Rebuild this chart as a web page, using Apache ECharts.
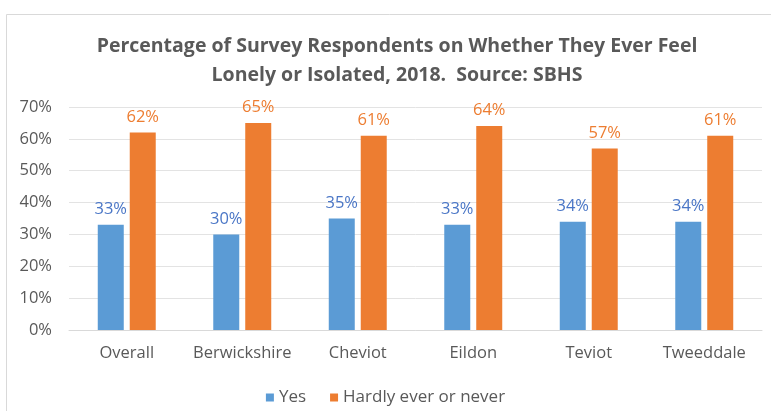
<!DOCTYPE html>
<html><head><meta charset="utf-8">
<script src="https://cdn.jsdelivr.net/npm/echarts@6/dist/echarts.min.js"></script>
<style>html,body{margin:0;padding:0;background:#fff}#c{width:771px;height:411px}</style>
</head><body><div id="c"></div>
<script>
const categories = ['Overall','Berwickshire','Cheviot','Eildon','Teviot','Tweeddale'];
const yesValues = [33,30,35,33,34,34];
const neverValues = [62,65,61,64,57,61];
const seriesNames = ['Yes','Hardly ever or never'];
const yTickLabels = ['0%','10%','20%','30%','40%','50%','60%','70%'];
const titleText = 'Percentage of Survey Respondents on Whether They Ever Feel\nLonely or Isolated, 2018.  Source: SBHS';

const chart = echarts.init(document.getElementById('c'));
const font = 'Open Sans';
chart.setOption({
  animation:false,
  graphic:[{type:'rect',shape:{x:6.5,y:14.5,width:800,height:420},style:{fill:'none',stroke:'#d9d9d9',lineWidth:1},silent:true}],
  title:{text:titleText,left:392,textAlign:'center',top:27,textStyle:{fontFamily:font,fontSize:19.5,fontWeight:'bold',color:'#595959',lineHeight:29}},
  legend:{top:384,left:'center',itemWidth:8,itemHeight:8,itemGap:24,icon:'rect',textStyle:{fontFamily:font,fontSize:17,color:'#595959'},data:seriesNames},
  grid:{left:69,right:9,top:107,bottom:81,containLabel:false},
  xAxis:{type:'category',data:categories,axisLine:{lineStyle:{color:'#d9d9d9'}},axisTick:{show:false},axisLabel:{interval:0,hideOverlap:false,fontFamily:font,fontSize:16.5,color:'#595959',margin:15}},
  yAxis:{type:'value',min:0,max:70,interval:10,axisLine:{show:false},axisTick:{show:false},splitLine:{lineStyle:{color:'#e3e3e3'}},
    axisLabel:{formatter:function(v){return yTickLabels[Math.round(v/10)];},fontFamily:font,fontSize:16.5,color:'#595959',margin:17}},
  series:[
    {name:seriesNames[0],type:'bar',data:yesValues,barWidth:26,barGap:'23%',itemStyle:{color:'#5B9BD5'},label:{show:true,position:'top',distance:7,formatter:'{c}%',fontFamily:font,fontSize:16.5,color:'#4A76C6'}},
    {name:seriesNames[1],type:'bar',data:neverValues,barWidth:26,itemStyle:{color:'#ED7D31'},label:{show:true,position:'top',distance:7,formatter:'{c}%',fontFamily:font,fontSize:16.5,color:'#ED7D31'}}
  ]
});
</script></body></html>
